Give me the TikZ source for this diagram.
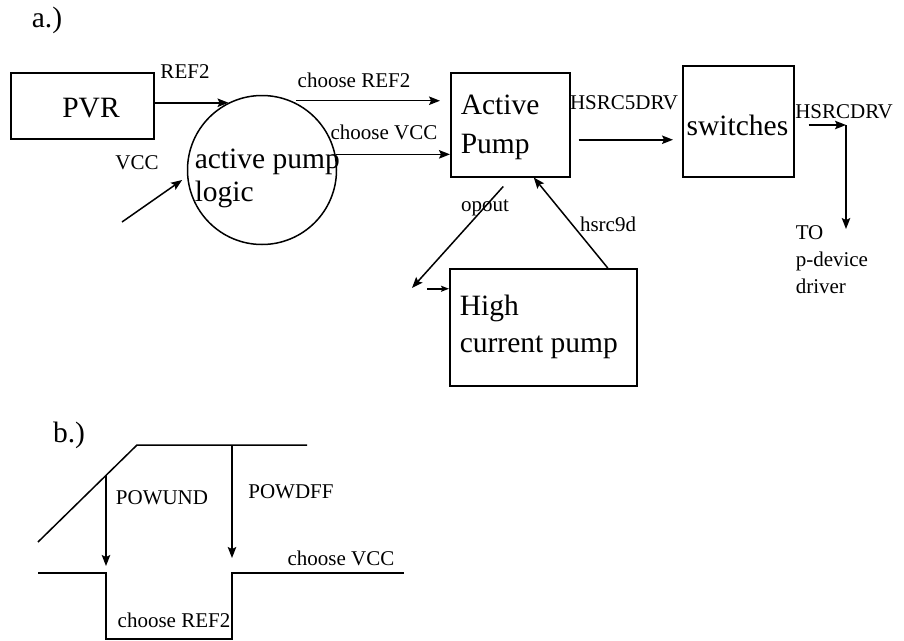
\documentclass[tikz,border=0pt]{standalone}
\usepackage{fontspec}
\setmainfont{Liberation Serif}
\usetikzlibrary{arrows.meta}
\begin{document}
\begin{tikzpicture}[x=1pt,y=-1pt,line width=1.5pt,
  big/.style={font=\fontsize{29.5}{33}\selectfont,inner sep=0pt},
  lbl/.style={font=\fontsize{21}{25}\selectfont,inner sep=0pt},
  blk/.style={draw,rectangle,inner sep=0pt,anchor=north west},
  arr/.style={-{Stealth[length=11pt,width=8.5pt,inset=2pt]}},
  sarr/.style={-{Stealth[length=8pt,width=6pt,inset=1.5pt]}}]
\useasboundingbox (0,0) rectangle (904,640);

% ---------- a.) ----------
\node[big] (ta) at (47,20) {a.)};

\node[blk,minimum width=143,minimum height=66] (pvr) at (10,72) {};
\node[big] (tpvr) at (91,108) {PVR};

\node[draw,circle,minimum size=149,inner sep=0pt] (apl) at (262,170) {};
\node[big,align=left,anchor=west,font=\fontsize{29.5}{33}\selectfont] (tapl) at (194,178) {active pump\\logic};

\node[blk,minimum width=119,minimum height=104] (ap) at (450,72) {};
\node[big,align=left,anchor=west,font=\fontsize{29.5}{39}\selectfont] (tap) at (460,127.5) {Active\\Pump};

\node[blk,minimum width=111,minimum height=111] (sw) at (682,65) {};
\node[big] (tsw) at (737.5,125) {switches};

\node[blk,minimum width=187,minimum height=117] (hcp) at (449,268) {};
\node[big,align=left,anchor=west,font=\fontsize{29.5}{37}\selectfont] (thcp) at (459,326.5) {High\\current pump};

\node[lbl,align=left,anchor=west,font=\fontsize{21}{27}\selectfont] (tto) at (795,259.5) {TO\\p-device\\driver};

% labels
\node[lbl] (lref2) at (185,72) {REF2};
\node[lbl] (lcr) at (354,80) {choose REF2};
\node[lbl] (lcv) at (384,132) {choose VCC};
\node[lbl] (lvcc) at (137,163) {VCC};
\node[lbl] (lh5) at (624,103) {HSRC5DRV};
\node[lbl] (lhd) at (844,112) {HSRCDRV};
\node[lbl] (lop) at (485,208) {opout};
\node[lbl] (lh9) at (608,224) {hsrc9d};

% connectors
\draw[arr] ([yshift=3pt]pvr.east) -- ++(74,0);
\draw[arr] ([xshift=5pt]apl.67) -- ([xshift=-10pt]apl.67 -| ap.west);
\draw[arr] (apl.12) -- (apl.12 -| ap.west);
\coordinate (vccs) at (122,222);
\draw[arr,shorten >=6pt] (vccs) -- (apl.185);
\draw[arr,shorten <=8pt,shorten >=9pt] ([yshift=-15pt]ap.east) -- ([yshift=-15pt]ap.east -| sw.west);
\coordinate (hc) at (846,125);
\coordinate (hce) at (846,229);
\draw[arr] (hc -| sw.east) ++(14,0) -- (hc);
\draw[arr] (hc) -- (hce);
\coordinate (ope) at (412,288);
\draw[arr] ([xshift=-7pt,yshift=-9pt]ap.south) -- (ope);
\draw[sarr] ([xshift=-22pt,yshift=38.5pt]hcp.west) -- ([yshift=38.5pt]hcp.west);
\draw[arr] ([xshift=64.5pt]hcp.north) -- ([xshift=23.5pt]ap.south);

% ---------- b.) ----------
\node[big] (tb) at (69,435) {b.)};
\coordinate (r0) at (38,542);
\coordinate (r1) at (137,445);
\coordinate (r2) at (307,445);
\coordinate (pu) at (106,475);
\coordinate (pd) at (232,445);
\draw (r0) -- (r1) -- (r2);
\coordinate (s0) at (38,573);
\coordinate (s1) at (106,573);
\coordinate (s2) at (106,639);
\coordinate (s3) at (232,639);
\coordinate (s4) at (232,573);
\coordinate (s5) at (404,573);
\draw (s0) -- (s1) -- (s2) -- (s3) -- (s4) -- (s5);
\draw[arr,line width=1.3pt] (pu) -- (106,566);
\draw[arr,line width=1.3pt] (pd) -- (232,558);
\node[lbl] (lpu) at (162,498) {POWUND};
\node[lbl] (lpd) at (291,492) {POWDFF};
\node[lbl] (lcv2) at (341,558) {choose VCC};
\node[lbl] (lcr2) at (174,620) {choose REF2};
\end{tikzpicture}
\end{document}
